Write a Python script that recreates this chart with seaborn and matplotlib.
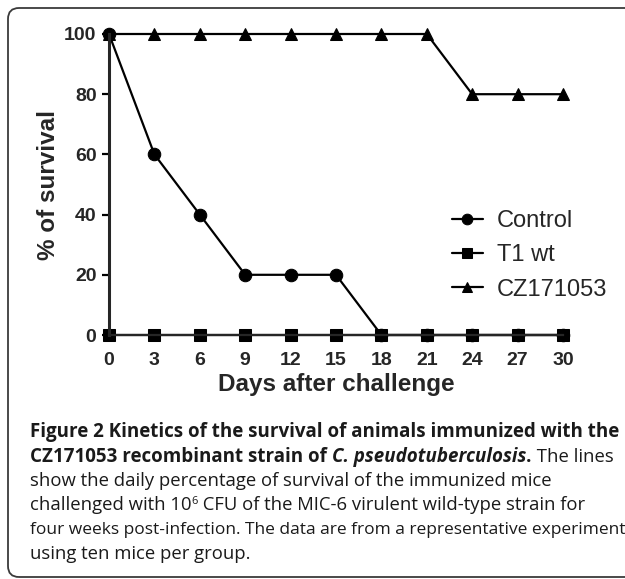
import matplotlib
matplotlib.use("Agg")
import matplotlib.pyplot as plt
import matplotlib.transforms as mtransforms
from matplotlib.patches import FancyBboxPatch
import pandas as pd
import seaborn as sns

# survival data (% of mice alive per day)
days = [0, 3, 6, 9, 12, 15, 18, 21, 24, 27, 30]
control = [100, 60, 40, 20, 20, 20, 0, 0, 0, 0, 0]
t1_wt = [0, 0, 0, 0, 0, 0, 0, 0, 0, 0, 0]
cz171053 = [100, 100, 100, 100, 100, 100, 100, 100, 80, 80, 80]
groups = ["Control", "T1 wt", "CZ171053"]
y_ticks = [0, 20, 40, 60, 80, 100]

df = pd.DataFrame({
    "day": days * 3,
    "survival": control + t1_wt + cz171053,
    "group": [groups[0]] * len(days) + [groups[1]] * len(days) + [groups[2]] * len(days),
})

sns.set_style("ticks")
plt.rcParams["font.family"] = ["Liberation Sans", "DejaVu Sans"]

W, H = 625, 579
fig = plt.figure(figsize=(W / 100, H / 100), dpi=100)
ax = fig.add_axes([109 / W, 1 - 335 / H, (563 - 109) / W, (335 - 34) / H])

sns.lineplot(data=df, x="day", y="survival", hue="group", style="group",
             hue_order=groups, style_order=groups,
             markers={"Control": "o", "T1 wt": "s", "CZ171053": "^"},
             dashes=False, palette=["black"] * 3, markersize=9,
             markeredgecolor="black", linewidth=1.6, clip_on=False,
             errorbar=None, ax=ax)

ax.set_xlim(0, 30)
ax.set_ylim(0, 100)
ax.set_xticks(days)
ax.set_yticks(y_ticks)
for s in ["top", "right"]:
    ax.spines[s].set_visible(False)
ax.spines["left"].set_linewidth(2.2)
ax.spines["bottom"].set_linewidth(1.6)
ax.tick_params(axis="y", length=5, width=1.6, pad=4, labelsize=14, color="black")
ax.tick_params(axis="x", length=3, width=1.4, pad=9, labelsize=14, color="black")
for lab in ax.get_xticklabels() + ax.get_yticklabels():
    lab.set_fontweight("bold")
ax.set_xlabel("Days after challenge", fontsize=17.5, fontweight="bold", labelpad=3)
ax.set_ylabel("% of survival", fontsize=17.5, fontweight="bold", labelpad=3)

handles, labels = ax.get_legend_handles_labels()
ax.legend(handles, labels, loc="upper left", frameon=False, fontsize=17,
          bbox_to_anchor=(452 / W, 1 - 210 / H), bbox_transform=fig.transFigure,
          borderpad=0, borderaxespad=0, handlelength=1.3, handletextpad=0.6,
          labelspacing=0.52, markerscale=0.85)

# caption box
box = FancyBboxPatch((8, 2), 700, H - 10, boxstyle="round,pad=0,rounding_size=11",
                     transform=mtransforms.IdentityTransform(), fill=False,
                     ec="#3a3a3a", lw=1.3)
fig.patches.append(box)

renderer = fig.canvas.get_renderer()
cap_family = ["Open Sans", "DejaVu Sans"]


def run_width(text, size, weight, style):
    t1 = fig.text(0, 0, text + "x", fontsize=size, weight=weight, style=style, family=cap_family)
    t2 = fig.text(0, 0, "x", fontsize=size, weight=weight, style=style, family=cap_family)
    w = t1.get_window_extent(renderer).width - t2.get_window_extent(renderer).width
    t1.remove()
    t2.remove()
    return w


caption = [
    [("Figure 2 Kinetics of the survival of animals immunized with the", "bold", "normal", 1, 0)],
    [("CZ171053 recombinant strain of ", "bold", "normal", 1, 0),
     ("C. pseudotuberculosis", "bold", "italic", 1, 0),
     (".", "bold", "normal", 1, 0),
     (" The lines", "normal", "normal", 1, 0)],
    [("show the daily percentage of survival of the immunized mice", "normal", "normal", 1, 0)],
    [("challenged with 10", "normal", "normal", 1, 0),
     ("6", "normal", "normal", 0.6, 6),
     (" CFU of the MIC-6 virulent wild-type strain for", "normal", "normal", 1, 0)],
    [("four weeks post-infection. The data are from a representative experiment", "normal", "normal", 1, 0)],
    [("using ten mice per group.", "normal", "normal", 1, 0)],
]
baselines = [437, 462, 486, 510, 534, 559]
x0, max_w = 30, 593

# fit caption sizes: bold to the first line, regular to the third line
bold_fs = 10 * 590 / run_width(caption[0][0][0], 10, "bold", "normal")
reg_fs = 10 * 522 / run_width(caption[2][0][0], 10, "normal", "normal")

for y, line in zip(baselines, caption):
    sizes = [(bold_fs if w == "bold" else reg_fs) * sc for _, w, _, sc, _ in line]
    total = sum(run_width(t, fs, w, st) for (t, w, st, _, _), fs in zip(line, sizes))
    shrink = min(1.0, max_w / total)
    x = x0
    for (text, weight, style, scale, dy), fs in zip(line, sizes):
        fs = fs * shrink
        fig.text(x / W, 1 - (y - dy) / H, text, fontsize=fs, weight=weight,
                 style=style, family=cap_family, va="baseline", color="#1a1a1a")
        x += run_width(text, fs, weight, style)

plt.savefig("out.png", dpi=100)
